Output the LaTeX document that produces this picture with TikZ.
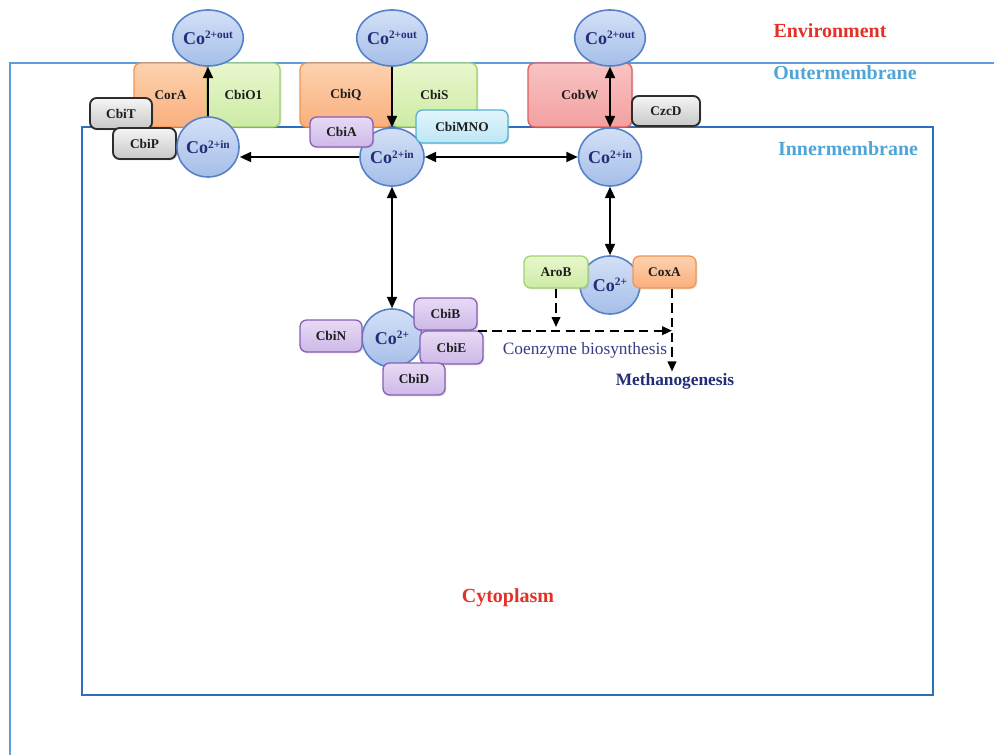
\documentclass[tikz,border=0pt]{standalone}
\usepackage{fontspec}
\setmainfont{Liberation Serif}
\usetikzlibrary{shapes.geometric,arrows.meta,shadows}
\definecolor{memout}{RGB}{95,158,220}
\definecolor{memin}{RGB}{45,110,190}
\definecolor{lblred}{RGB}{225,50,40}
\definecolor{lblblue}{RGB}{80,165,215}
\definecolor{txtdark}{RGB}{30,30,30}
\definecolor{navy}{RGB}{35,45,120}
\definecolor{coenz}{RGB}{55,60,135}
\definecolor{cotop}{RGB}{212,224,247}
\definecolor{cobot}{RGB}{165,190,232}
\definecolor{codraw}{RGB}{85,130,200}
\definecolor{ortop}{RGB}{253,210,175}
\definecolor{orbot}{RGB}{249,175,125}
\definecolor{ordraw}{RGB}{240,150,85}
\definecolor{grtop}{RGB}{232,247,205}
\definecolor{grbot}{RGB}{205,235,165}
\definecolor{grdraw}{RGB}{160,210,110}
\definecolor{putop}{RGB}{232,218,245}
\definecolor{pubot}{RGB}{205,185,232}
\definecolor{pudraw}{RGB}{135,95,180}
\definecolor{cytop}{RGB}{225,245,252}
\definecolor{cybot}{RGB}{190,230,245}
\definecolor{cydraw}{RGB}{80,180,210}
\definecolor{retop}{RGB}{250,195,195}
\definecolor{rebot}{RGB}{242,160,160}
\definecolor{redraw}{RGB}{220,95,95}
\definecolor{gytop}{RGB}{245,245,245}
\definecolor{gybot}{RGB}{200,200,200}
\definecolor{gydraw}{RGB}{45,45,45}
\newcommand\bx[7]{\node[#2, minimum width={(#5-#3)*0.75pt}, minimum height={(#6-#4)*0.75pt}] (#1) at ({(#3+#5)/2},{(#4+#6)/2}) {#7};}
\newcommand\coion[6]{\node[ion, minimum width={#4*0.75pt}, minimum height={#5*0.75pt}] (#1) at (#2,#3) {{\fontsize{13.5}{14}\selectfont Co}\raisebox{0.42em}{\fontsize{8.5}{9}\selectfont #6}};}
\begin{document}
\begin{tikzpicture}[x=0.75pt,y=-0.75pt,
  box/.style={rounded corners=5pt, line width=1pt, inner sep=0pt,
    font=\fontsize{10}{12}\selectfont\bfseries, text=txtdark,
    drop shadow={opacity=0.25, shadow xshift=1pt, shadow yshift=-1pt}},
  orbox/.style={box, draw=ordraw, top color=ortop, bottom color=orbot},
  grbox/.style={box, draw=grdraw, top color=grtop, bottom color=grbot},
  pubox/.style={box, draw=pudraw, top color=putop, bottom color=pubot},
  cybox/.style={box, draw=cydraw, top color=cytop, bottom color=cybot},
  rebox/.style={box, draw=redraw, top color=retop, bottom color=rebot},
  gybox/.style={box, draw=gydraw, line width=1.4pt, top color=gytop, bottom color=gybot},
  ion/.style={ellipse, inner sep=0pt, draw=codraw, line width=1.2pt,
    top color=cotop, bottom color=cobot, text=navy, font=\bfseries},
  region/.style={font=\fontsize{15}{17}\selectfont\bfseries, inner sep=0pt},
  arr/.style={line width=1.4pt, -{Triangle[length=8.5pt,width=7.5pt]}},
  darr/.style={line width=1.4pt, {Triangle[length=8.5pt,width=7.5pt]}-{Triangle[length=8.5pt,width=7.5pt]}},
  dsh/.style={line width=1.3pt, dash pattern=on 7pt off 4pt, -{Triangle[length=7.5pt,width=6.5pt]}}
]
\useasboundingbox (0,0) rectangle (994,755);
% membranes
\draw[memout, line width=1.3pt] (10,755) -- (10,63) -- (994,63);
\draw[memin, line width=1.8pt] (82,127) rectangle (933,695);
% region labels
\node[region, text=lblred] (env) at (830,31) {Environment};
\node[region, text=lblblue] (om) at (845,73) {Outermembrane};
\node[region, text=lblblue] (im) at (848,149) {Innermembrane};
\node[region, text=lblred] (cyto) at (508,598) {Cytoplasm};
% membrane proteins
\bx{CorA}{orbox}{134}{63}{207}{127}{CorA}
\bx{CbiO1}{grbox}{207}{63}{280}{127}{CbiO1}
\bx{CbiQ}{orbox}{300}{63}{392}{127}{CbiQ}
\bx{CbiS}{grbox}{392}{63}{477}{127}{CbiS}
\bx{CobW}{rebox}{528}{63}{632}{127}{CobW}
\bx{CzcD}{gybox}{632}{96}{700}{126}{CzcD}
\bx{CbiT}{gybox}{90}{98}{152}{129}{CbiT}
\bx{CbiP}{gybox}{113}{128}{176}{159}{CbiP}
% ions
\coion{outL}{208}{38}{64}{56}{2+out}
\coion{outM}{392}{38}{64}{56}{2+out}
\coion{outR}{610}{38}{64}{56}{2+out}
\coion{inL}{208}{147}{62}{60}{2+in}
\coion{inM}{392}{157}{64}{58}{2+in}
\coion{inR}{610}{157}{63}{58}{2+in}
\bx{CbiA}{pubox}{310}{117}{373}{147}{CbiA}
\bx{CbiMNO}{cybox}{416}{110}{508}{143}{CbiMNO}
\coion{cM}{392}{338}{60}{58}{2+}
\coion{cR}{610}{285}{60}{58}{2+}
\bx{CbiN}{pubox}{300}{320}{362}{352}{CbiN}
\bx{CbiB}{pubox}{414}{298}{477}{330}{CbiB}
\bx{CbiE}{pubox}{420}{331}{483}{364}{CbiE}
\bx{CbiD}{pubox}{383}{363}{445}{395}{CbiD}
\bx{AroB}{grbox}{524}{256}{588}{288}{AroB}
\bx{CoxA}{orbox}{633}{256}{696}{288}{CoxA}
% transport arrows
\draw[arr] (inL.north) -- (outL.south);
\draw[arr] (outM.south) -- (inM.north);
\draw[darr] (outR.south) -- (inR.north);
\draw[arr] (inM.west) -- (inM.west -| inL.east);
\draw[darr] (inM.east) -- (inR.west);
\draw[darr] (inM.south) -- (cM.north);
\draw[darr] (inR.south) -- (cR.north);
% pathways
\node[font=\fontsize{13}{15}\selectfont, text=coenz, inner sep=0pt] (coenzyme) at (585,350) {Coenzyme biosynthesis};
\node[font=\fontsize{13}{15}\selectfont\bfseries, text=navy, inner sep=1pt] (meth) at (675,381) {Methanogenesis};
\coordinate (mj) at (672,330);
\coordinate (aj) at (556,327);
\draw[dsh] (CbiB.south east) -- (CbiB.south east -| mj);
\draw[dsh] (AroB.south) -- (aj);
\draw[dsh] (CoxA.south -| mj) -- (mj |- meth.north);
\end{tikzpicture}
\end{document}
